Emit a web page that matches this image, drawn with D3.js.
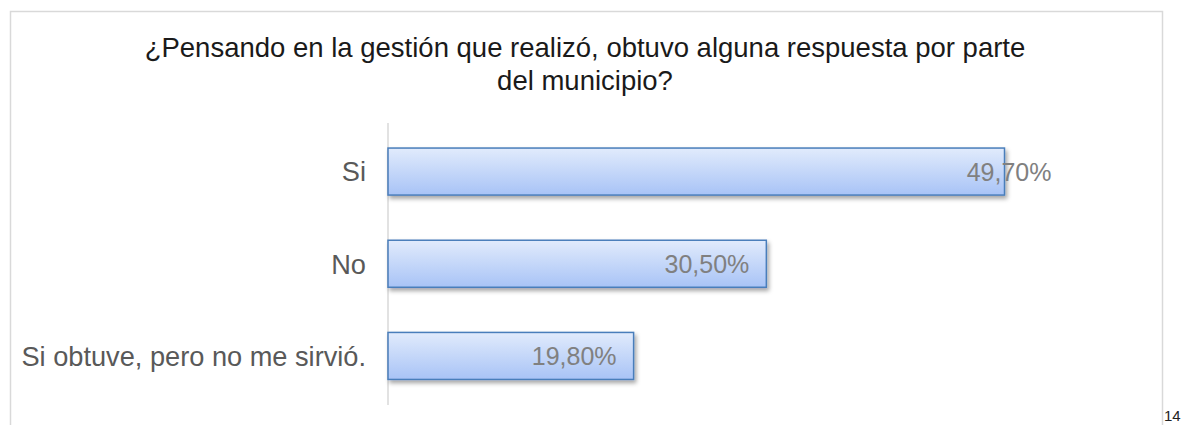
<!DOCTYPE html>
<html><head><meta charset="utf-8">
<script src="https://cdn.jsdelivr.net/npm/d3@7/dist/d3.min.js"></script>
<style>body{margin:0;background:#fff;}svg{display:block;font-family:"Liberation Sans",Arial,sans-serif;}</style>
</head><body>
<svg id="c" width="1184" height="425"></svg>
<script>
const titleLines = ["¿Pensando en la gestión que realizó, obtuvo alguna respuesta por parte", "del municipio?"];
const categories = ["Si", "No", "Si obtuve, pero no me sirvió."];
const values = [49.7, 30.5, 19.8];
const valueLabels = ["49,70%", "30,50%", "19,80%"];
const labelNudge = [64, 0, 0];
const pageNumber = "14";

const svg = d3.select("#c");
const defs = svg.append("defs");
const grad = defs.append("linearGradient").attr("id","g").attr("x1",0).attr("y1",0).attr("x2",0).attr("y2",1);
grad.append("stop").attr("offset","0%").attr("stop-color","#e1ebfc");
grad.append("stop").attr("offset","100%").attr("stop-color","#a8c3f6");
const f = defs.append("filter").attr("id","sh").attr("x","-5%").attr("y","-20%").attr("width","120%").attr("height","160%");
f.append("feDropShadow").attr("dx",2).attr("dy",3).attr("stdDeviation",2).attr("flood-color","#000").attr("flood-opacity",0.35);

// frame
svg.append("path").attr("d","M10.5,425 V11.5 H1162.5 V425").attr("fill","none").attr("stroke","#d9d9d9").attr("stroke-width",1.5);

// title
svg.append("g").selectAll("text").data(titleLines).join("text")
  .attr("x",585).attr("y",(d,i)=>57+i*33).attr("text-anchor","middle")
  .attr("font-size",27.5).attr("fill","#1a1a1a").text(d=>d);

const x0 = 388;
const x = d3.scaleLinear().domain([0,49.7]).range([x0,1004.5]);
const y = d3.scaleBand().domain(categories).range([125,402.5]).paddingInner(0.49).paddingOuter(0.25);

// axis line
svg.append("line").attr("x1",x0).attr("x2",x0).attr("y1",123).attr("y2",405).attr("stroke","#d9d9d9").attr("stroke-width",1.5);

svg.append("g").selectAll("rect").data(categories).join("rect")
  .attr("x",x(0)).attr("y",d=>y(d))
  .attr("width",(d,i)=>x(values[i])-x(0)).attr("height",y.bandwidth())
  .attr("fill","url(#g)").attr("stroke","#4a7ebb").attr("stroke-width",1.5)
  .attr("filter","url(#sh)");

// category labels
svg.append("g").selectAll("text").data(categories).join("text")
  .attr("x",366).attr("y",d=>y(d)+y.bandwidth()/2).attr("dy","0.36em")
  .attr("text-anchor","end").attr("font-size",27.2).attr("fill","#595959").text(d=>d);

// value labels
svg.append("g").selectAll("text").data(categories).join("text")
  .attr("x",(d,i)=>x(values[i])-17+labelNudge[i]).attr("y",d=>y(d)+y.bandwidth()/2).attr("dy","0.38em")
  .attr("text-anchor","end").attr("font-size",25).attr("fill","#808080").text((d,i)=>valueLabels[i]);

svg.append("text").attr("x",1164).attr("y",421).attr("font-size",15).attr("fill","#222").text(pageNumber);
</script>
</body></html>
